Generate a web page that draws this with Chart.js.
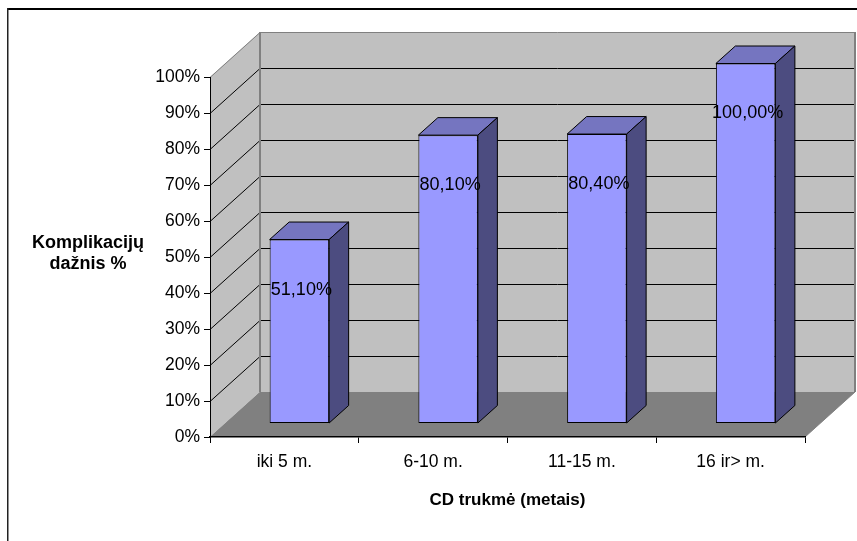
<!DOCTYPE html>
<html>
<head>
<meta charset="utf-8">
<script src="https://cdn.jsdelivr.net/npm/chart.js@4/dist/chart.umd.min.js"></script>
<style>
  html, body { margin: 0; padding: 0; background: #fff; }
  canvas { display: block; }
</style>
</head>
<body>
<canvas id="chart" width="857" height="541"></canvas>
<script>
// Complication rate by disease duration
const categories = ['iki 5 m.', '6-10 m.', '11-15 m.', '16 ir> m.'];
const values = [51.1, 80.1, 80.4, 100.0];
const yTickStep = 10;
const yMax = 100;
const xTitle = 'CD trukmė (metais)';
const yTitle = ['Komplikacijų', 'dažnis %'];

const FONT = '"Liberation Sans", Arial, sans-serif';

// Perspective offsets of the 3D box (floor depth) and of the bars inside it
const DEPTH = { dx: 50, dy: -45 };
const BAR_FRONT = { dx: 15, dy: -13.5 };
const BAR_DEPTH = { dx: 19.5, dy: -17.5 };

const fmtValue = v => v.toFixed(2).replace('.', ',') + '%';

const threeD = {
  id: 'threeD',
  beforeDraw(chart) {
    const { ctx, chartArea: a, scales: { y } } = chart;
    const L = a.left, R = a.right, T = a.top, B = a.bottom;
    ctx.save();
    // side wall
    ctx.fillStyle = '#C0C0C0';
    ctx.beginPath();
    ctx.moveTo(L, T); ctx.lineTo(L + DEPTH.dx, T + DEPTH.dy);
    ctx.lineTo(L + DEPTH.dx, B + DEPTH.dy); ctx.lineTo(L, B);
    ctx.closePath(); ctx.fill();
    // back wall
    ctx.fillRect(L + DEPTH.dx, T + DEPTH.dy, R - L, B - T);
    // floor
    ctx.fillStyle = '#808080';
    ctx.beginPath();
    ctx.moveTo(L, B); ctx.lineTo(R, B);
    ctx.lineTo(R + DEPTH.dx, B + DEPTH.dy); ctx.lineTo(L + DEPTH.dx, B + DEPTH.dy);
    ctx.closePath(); ctx.fill();

    // gridlines on side and back walls
    ctx.lineWidth = 1;
    for (let v = 0; v <= yMax; v += yTickStep) {
      const py = Math.round(y.getPixelForValue(v)) + 0.5;
      const edge = (v === 0 || v === yMax);
      ctx.strokeStyle = edge ? '#808080' : '#000';
      ctx.beginPath();
      ctx.moveTo(L, py); ctx.lineTo(L + DEPTH.dx, py + DEPTH.dy);
      if (v !== 0) ctx.lineTo(R + DEPTH.dx, py + DEPTH.dy);
      ctx.stroke();
    }
    // back wall edges
    ctx.strokeStyle = '#808080';
    ctx.lineWidth = 2;
    ctx.beginPath();
    ctx.moveTo(L + DEPTH.dx, B + DEPTH.dy); ctx.lineTo(L + DEPTH.dx, T + DEPTH.dy);
    ctx.moveTo(R + DEPTH.dx, B + DEPTH.dy); ctx.lineTo(R + DEPTH.dx, T + DEPTH.dy);
    ctx.stroke();
    ctx.lineWidth = 1;
    ctx.beginPath();
    ctx.moveTo(R, B); ctx.lineTo(R + DEPTH.dx, B + DEPTH.dy);
    ctx.stroke();
    ctx.restore();
  },
  beforeDatasetsDraw(chart) {
    const { ctx } = chart;
    ctx.save();
    ctx.translate(BAR_FRONT.dx, BAR_FRONT.dy);
    const meta = chart.getDatasetMeta(0);
    meta.data.forEach(bar => {
      const { x, y, base, width } = bar.getProps(['x', 'y', 'base', 'width'], true);
      const l = x - width / 2, r = x + width / 2;
      ctx.lineWidth = 1;
      ctx.strokeStyle = '#000';
      ctx.lineJoin = 'round';
      // top face
      ctx.fillStyle = '#7575C0';
      ctx.beginPath();
      ctx.moveTo(l, y); ctx.lineTo(r, y);
      ctx.lineTo(r + BAR_DEPTH.dx, y + BAR_DEPTH.dy); ctx.lineTo(l + BAR_DEPTH.dx, y + BAR_DEPTH.dy);
      ctx.closePath(); ctx.fill(); ctx.stroke();
      // side face
      ctx.fillStyle = '#4C4C80';
      ctx.beginPath();
      ctx.moveTo(r, y); ctx.lineTo(r + BAR_DEPTH.dx, y + BAR_DEPTH.dy);
      ctx.lineTo(r + BAR_DEPTH.dx, base + BAR_DEPTH.dy); ctx.lineTo(r, base);
      ctx.closePath(); ctx.fill(); ctx.stroke();
    });
  },
  afterDatasetsDraw(chart) {
    const { ctx } = chart;
    ctx.restore();
    // value labels on the bar fronts
    ctx.save();
    ctx.font = '18px ' + FONT;
    ctx.fillStyle = '#000';
    ctx.textAlign = 'center';
    ctx.textBaseline = 'middle';
    const meta = chart.getDatasetMeta(0);
    meta.data.forEach((bar, i) => {
      const { x, y } = bar.getProps(['x', 'y'], true);
      ctx.fillText(fmtValue(values[i]), x + BAR_FRONT.dx + 2, y + BAR_FRONT.dy + 50);
    });
    ctx.restore();
  },
  afterDraw(chart) {
    const { ctx, chartArea: a } = chart;
    ctx.save();
    // axis titles
    ctx.fillStyle = '#000';
    ctx.textAlign = 'center';
    ctx.textBaseline = 'alphabetic';
    ctx.font = 'bold 17px ' + FONT;
    ctx.fillText(xTitle, (a.left + a.right) / 2, 505);
    ctx.font = 'bold 18px ' + FONT;
    ctx.fillText(yTitle[0], 88, 248);
    ctx.fillText(yTitle[1], 88, 269);
    // frame (top and left edges)
    ctx.fillStyle = '#000';
    ctx.fillRect(7, 8, 850, 2);
    ctx.fillStyle = '#222';
    ctx.fillRect(7, 8, 1.5, 533);
    ctx.restore();
  }
};

new Chart(document.getElementById('chart'), {
  type: 'bar',
  data: {
    labels: categories,
    datasets: [{
      data: values,
      backgroundColor: '#9999FF',
      borderColor: '#000',
      borderWidth: 1,
      borderSkipped: false,
      barPercentage: 0.4,
      categoryPercentage: 1.0,
      clip: false
    }]
  },
  options: {
    responsive: false,
    animation: false,
    devicePixelRatio: 1,
    layout: { padding: { top: 77, right: 52, left: 0, bottom: 0 } },
    plugins: { legend: { display: false }, tooltip: { enabled: false } },
    scales: {
      x: {
        grid: { drawOnChartArea: false, tickLength: 6, color: '#000', offset: true },
        border: { display: true, color: '#000', width: 1.5 },
        ticks: { font: { family: FONT, size: 17.5 }, color: '#000', padding: 9 },
        afterFit(s) { s.height = 104; }
      },
      y: {
        min: 0,
        max: yMax,
        ticks: { stepSize: yTickStep, callback: v => v + '%', font: { family: FONT, size: 17.5 }, color: '#000', padding: 4 },
        grid: { drawOnChartArea: false, tickLength: 6, color: '#000' },
        border: { display: true, color: '#000', width: 1 },
        afterFit(s) { s.width = 210; }
      }
    }
  },
  plugins: [threeD]
});
</script>
</body>
</html>
